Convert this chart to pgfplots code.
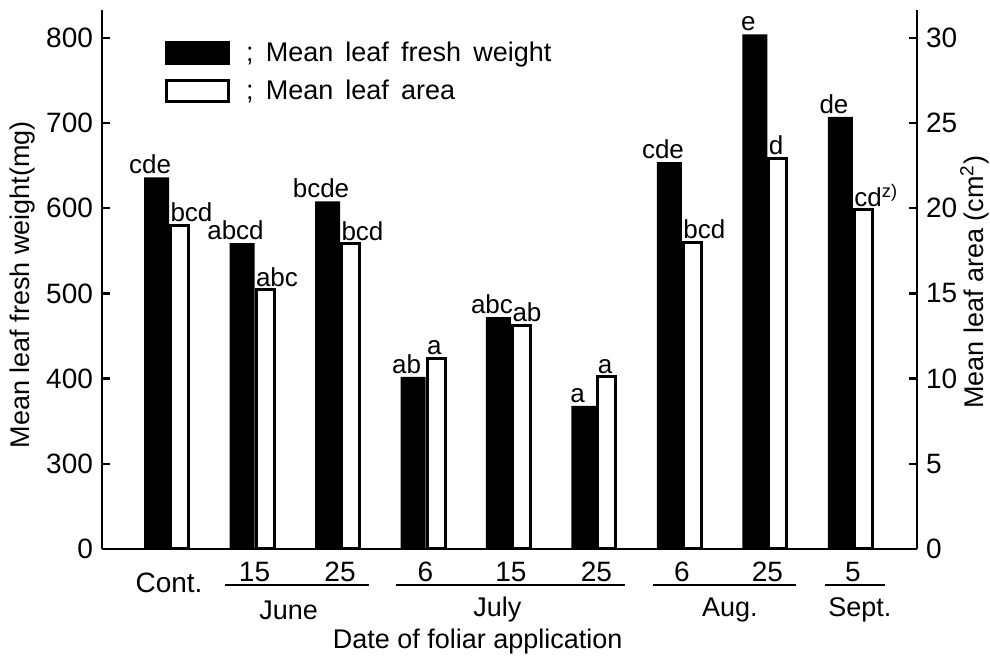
\documentclass[border=0pt]{standalone}
\usepackage{fontspec}
\setmainfont{Liberation Sans}
\usepackage{pgfplots}
\usepackage{pgfplotstable}
\pgfplotsset{compat=1.18}
\newcommand{\zsup}{cd\textsuperscript{z)}}
\newcommand{\wsp}{\spaceskip=0.45em\relax}
\pgfplotstableread{
x w lw a la
0 636 cde 19.0 bcd
1 559 abcd 15.2 abc
2 608 bcde 17.9 bcd
3 402 ab 11.2 a
4 472 abc 13.1 ab
5 368 a 10.1 a
6 654 cde 18.0 bcd
7 804 e 22.9 d
8 707 de 19.9 \zsup
}\data
\pgfplotsset{
  base/.style={
    scale only axis, width=407.5pt, height=269.5pt,
    xmin=-0.784, xmax=8.749,
    clip mode=individual,
    axis line style={line width=1.4pt},
    tick style={line width=1.2pt, black},
    major tick length=4pt, tick align=inside,
    ticklabel style={font=\fontsize{14}{16}\selectfont},
    label style={font=\fontsize{13.5}{16}\selectfont},
  }
}
\begin{document}
\begin{tikzpicture}
\path[use as bounding box] (-51pt,-53.5pt) rectangle (444pt,274.5pt);
\begin{axis}[base, at={(0,0)}, anchor=south west,
  axis y line*=right, axis x line=none,
  ymin=0, ymax=31.63,
  ytick={0,5,10,15,20,25,30},
  yticklabels={0,5,10,15,20,25,30},
  yticklabel style={xshift=1pt},
  xtick=\empty,
  ylabel={Mean leaf area (cm\textsuperscript{2})},
  ylabel style={at={(axis description cs:1.071,0.495)}, anchor=center},
]
\addplot[ybar, bar width=9pt, bar shift=5.25pt, fill=white, draw=black, line width=1.5pt,
  nodes near coords, point meta=explicit symbolic,
  nodes near coords style={font=\fontsize{13}{15}\selectfont, anchor=south west, xshift=-1pt, inner sep=1pt, fill=none, draw=none}]
  table[x=x, y=a, meta=la] {\data};
\end{axis}
\begin{axis}[base, at={(0,0)}, anchor=south west,
  axis y line*=left, axis x line*=bottom,
  ymin=200, ymax=832.6,
  ytick={200,300,400,500,600,700,800},
  yticklabels={0,300,400,500,600,700,800},
  yticklabel style={xshift=-1pt},
  xtick={0,1,2,3,4,5,6,7,8},
  xticklabels={\lower5.5pt\hbox{Cont.},15,25,6,15,25,6,25,5},
  x tick style={draw=none},
  xticklabel style={anchor=base, yshift=-16.5pt},
  ylabel={Mean leaf fresh weight(mg)},
  ylabel style={at={(axis description cs:-0.098,0.49)}, anchor=center},
  xlabel={Date of foliar application},
  xlabel style={at={(axis description cs:0.461,-0.172)}, anchor=center},
  legend style={at={(axis description cs:0.077,0.945)}, anchor=north west,
    draw=none, fill=none, font=\fontsize{13.5}{16}\selectfont,
    row sep=5.5pt, inner sep=0pt, nodes={inner sep=1pt}},
  legend cell align=left,
]
\addplot[ybar, bar width=12.5pt, bar shift=-6.25pt, fill=black, draw=none,
  nodes near coords, point meta=explicit symbolic,
  nodes near coords style={font=\fontsize{13}{15}\selectfont, anchor=south, xshift=-9.5pt, inner sep=1.5pt, fill=none, draw=none},
  legend image code/.code={\filldraw[fill=black, draw=none] (0pt,-6pt) rectangle (32.5pt,6pt);}]
  table[x=x, y=w, meta=lw] {\data};
\addlegendentry{\wsp\hspace*{7pt}; Mean leaf fresh weight}
\addlegendimage{legend image code/.code={\draw[fill=white, draw=black, line width=1.5pt] (0.75pt,-5.25pt) rectangle (31.75pt,5.25pt);}}
\addlegendentry{\wsp\hspace*{7pt}; Mean leaf area}
% month underlines and names
\draw[line width=1pt] ([yshift=-18pt]axis cs:0.655,200) -- ([yshift=-18pt]axis cs:2.34,200);
\draw[line width=1pt] ([yshift=-18pt]axis cs:2.655,200) -- ([yshift=-18pt]axis cs:5.333,200);
\draw[line width=1pt] ([yshift=-18pt]axis cs:5.661,200) -- ([yshift=-18pt]axis cs:7.333,200);
\draw[line width=1pt] ([yshift=-18pt]axis cs:7.672,200) -- ([yshift=-18pt]axis cs:8.374,200);
\node[font=\fontsize{13.5}{16}\selectfont] at ([yshift=-30.5pt]axis cs:1.40,200) {June};
\node[font=\fontsize{13.5}{16}\selectfont] at ([yshift=-30.5pt]axis cs:3.84,200) {July};
\node[font=\fontsize{13.5}{16}\selectfont] at ([yshift=-30.5pt]axis cs:6.56,200) {Aug.};
\node[font=\fontsize{13.5}{16}\selectfont] at ([yshift=-30.5pt]axis cs:8.08,200) {Sept.};
\end{axis}
\end{tikzpicture}
\end{document}
